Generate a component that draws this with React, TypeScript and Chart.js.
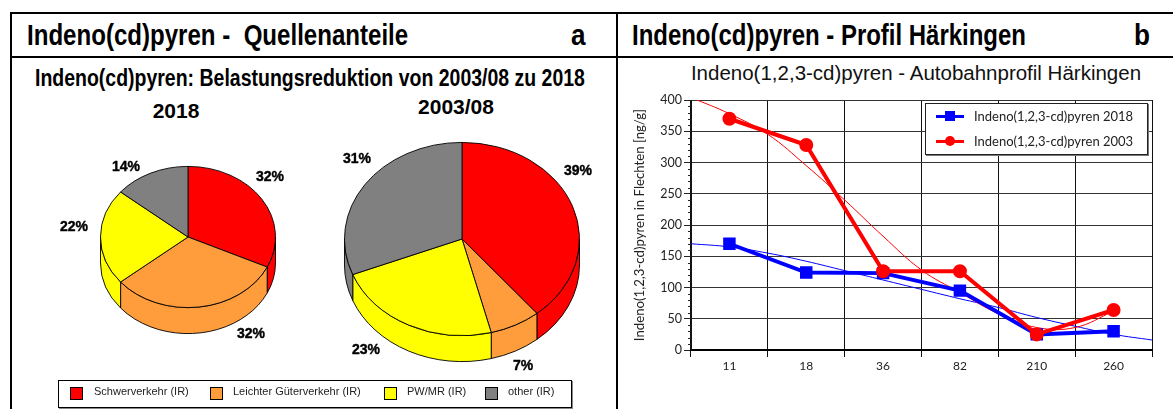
import React, { useEffect, useRef } from "react";
import { Chart, registerables } from "chart.js";

Chart.register(...registerables);

const sources = ["Schwerverkehr (IR)", "Leichter Güterverkehr (IR)", "PW/MR (IR)", "other (IR)"];
const sourceColors = ["#ff0000", "#ff9c3c", "#ffff00", "#808080"];
const shares2018 = [32, 32, 22, 14];
const shares2003 = [39, 7, 23, 31];
const labelSpots2018 = [[270, 176], [251, 333], [74, 226], [126, 166]];
const labelSpots2003 = [[578, 170], [523, 365], [366, 349], [357, 158]];
const legendSpots = [[70, 94], [210, 233], [384, 407], [485, 508]];

const distances = ["11", "18", "36", "82", "210", "260"];
const profile2018 = [170, 124, 123, 95, 25, 30];
const profile2003 = [370, 328, 126, 126, 25, 64];
const trendX = [0, 0.5, 1, 1.5, 2, 2.5, 3, 3.5, 4, 4.5, 5, 5.5, 6];
const trend2018 = [170, 165, 155, 142, 127, 112, 97, 82, 68, 52, 38, 25, 16];
const trendX2003 = [0, 0.5, 1, 1.5, 2, 2.5, 3, 3.5, 4, 4.5, 5, 5.5];
const trend2003 = [404, 378, 345, 295, 240, 182, 128, 92, 58, 36, 36, 62];
const name2018 = "Indeno(1,2,3-cd)pyren 2018";
const name2003 = "Indeno(1,2,3-cd)pyren 2003";

const sans = '"Liberation Sans", Arial, sans-serif';
const curvy = 'Lato, "Open Sans", sans-serif';

const tilt = {
  id: "tilt",
  beforeDatasetsDraw(chart: any, _a: any, o: any) {
    const ctx = chart.ctx;
    const arcs = chart.getDatasetMeta(0).data;
    const { x: cx, y: cy, outerRadius: r } = arcs[0];
    ctx.save();
    ctx.translate(cx, o.centerY);
    ctx.scale(1, o.k);
    ctx.translate(-cx, -cy);
    const d = o.depth / o.k;
    arcs.forEach((arc: any) => {
      const a = Math.max(arc.startAngle, 0);
      const b = Math.min(arc.endAngle, Math.PI);
      if (a >= b) return;
      ctx.beginPath();
      ctx.arc(cx, cy + d, r, a, b);
      ctx.arc(cx, cy, r, b, a, true);
      ctx.closePath();
      ctx.fillStyle = arc.options.backgroundColor;
      ctx.fill();
      ctx.lineWidth = 1;
      ctx.strokeStyle = "#000";
      ctx.stroke();
    });
  },
  afterDatasetsDraw(chart: any) {
    chart.ctx.restore();
  },
};

const minorTicks = {
  id: "minorTicks",
  afterDraw(chart: any) {
    const { ctx, scales } = chart;
    const y = scales.y;
    ctx.save();
    ctx.strokeStyle = "#222";
    ctx.lineWidth = 1;
    for (let v = 0; v <= 400; v += 10) {
      if (v % 50 === 0) continue;
      const p = Math.round(y.getPixelForValue(v)) + 0.5;
      ctx.beginPath();
      ctx.moveTo(y.right - 3, p);
      ctx.lineTo(y.right, p);
      ctx.stroke();
    }
    ctx.restore();
  },
};

function Pie({ values, cx, cy, rx, ry, depth }: any) {
  const ref = useRef<HTMLCanvasElement>(null);
  const pad = 4;
  const size = 2 * rx + 2 * pad;
  useEffect(() => {
    const chart = new Chart(ref.current as any, {
      type: "pie",
      plugins: [tilt],
      data: {
        labels: sources,
        datasets: [{ data: values, backgroundColor: sourceColors, borderColor: "#000", borderWidth: 1, clip: false } as any],
      },
      options: {
        animation: false,
        responsive: false,
        layout: { padding: pad },
        plugins: {
          legend: { display: false },
          tooltip: { enabled: false },
          tilt: { k: ry / rx, depth, centerY: ry + pad },
        } as any,
      },
    });
    return () => chart.destroy();
  }, []);
  return (
    <canvas
      ref={ref}
      width={size}
      height={size}
      style={{ position: "absolute", left: cx - rx - pad, top: cy - ry - pad, width: size, height: size }}
    />
  );
}

function Profile() {
  const ref = useRef<HTMLCanvasElement>(null);
  useEffect(() => {
    const chart = new Chart(ref.current as any, {
      type: "line",
      plugins: [minorTicks],
      data: {
        labels: distances,
        datasets: [
          {
            label: "trend 2018",
            xAxisID: "xt",
            data: trendX.map((x, i) => ({ x, y: trend2018[i] })),
            borderColor: "#0000ff",
            borderWidth: 1,
            pointRadius: 0,
            tension: 0.4,
            order: 4,
          },
          {
            label: "trend 2003",
            xAxisID: "xt",
            data: trendX2003.map((x, i) => ({ x, y: trend2003[i] })),
            borderColor: "#ff0000",
            borderWidth: 1,
            pointRadius: 0,
            tension: 0.4,
            order: 3,
          },
          {
            label: name2018,
            data: profile2018,
            borderColor: "#0000ff",
            backgroundColor: "#0000ff",
            borderWidth: 4,
            pointStyle: "rect",
            pointRadius: 6,
            tension: 0,
            order: 2,
          },
          {
            label: name2003,
            data: profile2003,
            borderColor: "#ff0000",
            backgroundColor: "#ff0000",
            borderWidth: 4,
            pointStyle: "circle",
            pointRadius: 5,
            tension: 0,
            order: 1,
          },
        ] as any,
      },
      options: {
        animation: false,
        responsive: false,
        layout: { padding: { top: 8, right: 21, bottom: 0, left: 0 } },
        plugins: { legend: { display: false }, tooltip: { enabled: false } },
        scales: {
          x: {
            type: "category",
            offset: true,
            grid: { offset: true, color: "#111", lineWidth: 1, tickLength: 7, tickColor: "#111" },
            border: { color: "#000", width: 2 },
            ticks: { color: "#222", font: { family: curvy, size: 12 }, padding: 2, maxRotation: 0 },
            afterFit(s: any) {
              s.height = 59;
            },
          },
          xt: { type: "linear", display: false, min: 0, max: 6 },
          y: {
            min: 0,
            max: 400,
            ticks: { stepSize: 50, color: "#222", font: { family: curvy, size: 12.5 }, padding: 2 },
            grid: { color: "#333", lineWidth: 1, tickLength: 7, tickColor: "#222" },
            border: { color: "#111", width: 1 },
            title: {
              display: true,
              text: "Indeno(1,2,3-cd)pyren in Flechten [ng/g]",
              color: "#222",
              font: { family: curvy, size: 13.2 },
              padding: { top: 2, bottom: 0 },
            },
            afterFit(s: any) {
              s.width = 61;
            },
          },
        } as any,
      },
    });
    return () => chart.destroy();
  }, []);
  return (
    <canvas
      ref={ref}
      width={543}
      height={319}
      style={{ position: "absolute", left: 630, top: 90, width: 543, height: 319 }}
    />
  );
}

const abs = (s: any): any => ({ position: "absolute", whiteSpace: "pre", ...s });
const line = (left: number, top: number, width: number, height: number) => (
  <div style={abs({ left, top, width, height, background: "#000" })} />
);
const squeezed = (left: number, top: number, size: number, sx: number) =>
  abs({ left, top, font: `bold ${size}px ${sans}`, color: "#000", transform: `scaleX(${sx})`, transformOrigin: "left top" });

function PctLabels({ values, spots }: any) {
  return values.map((v: number, i: number) => (
    <div
      key={i}
      style={abs({
        left: spots[i][0] - 25,
        top: spots[i][1] - 8,
        width: 50,
        height: 16,
        lineHeight: "16px",
        textAlign: "center",
        font: `bold 14px ${sans}`,
        color: "#000",
        WebkitTextStroke: "0.4px #000",
      })}
    >
      {v}%
    </div>
  ));
}

export default function App() {
  useEffect(() => {
    document.body.style.margin = "0";
    document.body.style.background = "#fff";
  }, []);
  return (
    <div style={{ position: "absolute", left: 0, top: 0, width: 1173, height: 409, overflow: "hidden", background: "#fff" }}>
      {line(10, 12, 1163, 2)}
      {line(10, 56, 1163, 2)}
      {line(10, 12, 2, 397)}
      {line(616, 12, 2, 397)}
      <div style={squeezed(27, 19, 29, 0.83)}>Indeno(cd)pyren -  Quellenanteile</div>
      <div style={squeezed(571, 19, 29, 0.9)}>a</div>
      <div style={squeezed(632, 19, 29, 0.826)}>Indeno(cd)pyren - Profil Härkingen</div>
      <div style={squeezed(1134, 19, 29, 0.9)}>b</div>
      <div style={squeezed(35, 65, 23, 0.847)}>Indeno(cd)pyren: Belastungsreduktion von 2003/08 zu 2018</div>
      <div style={abs({ left: 126, width: 100, top: 99, textAlign: "center", font: `bold 21px ${sans}` })}>2018</div>
      <div style={abs({ left: 406, width: 100, top: 95, textAlign: "center", font: `bold 21px ${sans}` })}>2003/08</div>

      <Pie values={shares2018} cx={188} cy={237} rx={88} ry={71} depth={26} />
      <Pie values={shares2003} cx={462} cy={239} rx={118} ry={97} depth={26} />
      <PctLabels values={shares2018} spots={labelSpots2018} />
      <PctLabels values={shares2003} spots={labelSpots2003} />

      <div
        style={abs({
          left: 58,
          top: 380,
          width: 512,
          height: 26,
          border: "1px solid #000",
          boxShadow: "1px 1px 0 #888",
          background: "#fff",
        })}
      />
      {sources.map((s, i) => (
        <React.Fragment key={s}>
          <div
            style={abs({
              left: legendSpots[i][0],
              top: 387,
              width: 11,
              height: 11,
              background: sourceColors[i],
              border: "1px solid #000",
            })}
          />
          <div style={abs({ left: legendSpots[i][1], top: 385, font: `11px ${sans}`, color: "#222" })}>{s}</div>
        </React.Fragment>
      ))}

      <Profile />
      <div style={abs({ left: 618, width: 596, top: 61, textAlign: "center", font: `20.5px ${sans}`, color: "#111" })}>
        Indeno(1,2,3-cd)pyren - Autobahnprofil Härkingen
      </div>

      <div
        style={abs({
          left: 925,
          top: 103,
          width: 221,
          height: 50,
          background: "#fff",
          border: "1px solid #222",
          boxShadow: "1px 1px 0 #777",
        })}
      />
      {[
        { name: name2018, color: "#0000ff", radius: 0, top: 116 },
        { name: name2003, color: "#ff0000", radius: "50%", top: 141 },
      ].map((l) => (
        <React.Fragment key={l.name}>
          <div style={abs({ left: 936, top: l.top - 1.5, width: 28, height: 3, background: l.color })} />
          <div
            style={abs({ left: 945, top: l.top - 5, width: 10, height: 10, background: l.color, borderRadius: l.radius })}
          />
          <div style={abs({ left: 974, top: l.top - 8, font: `13px ${curvy}`, color: "#222" })}>{l.name}</div>
        </React.Fragment>
      ))}
    </div>
  );
}
